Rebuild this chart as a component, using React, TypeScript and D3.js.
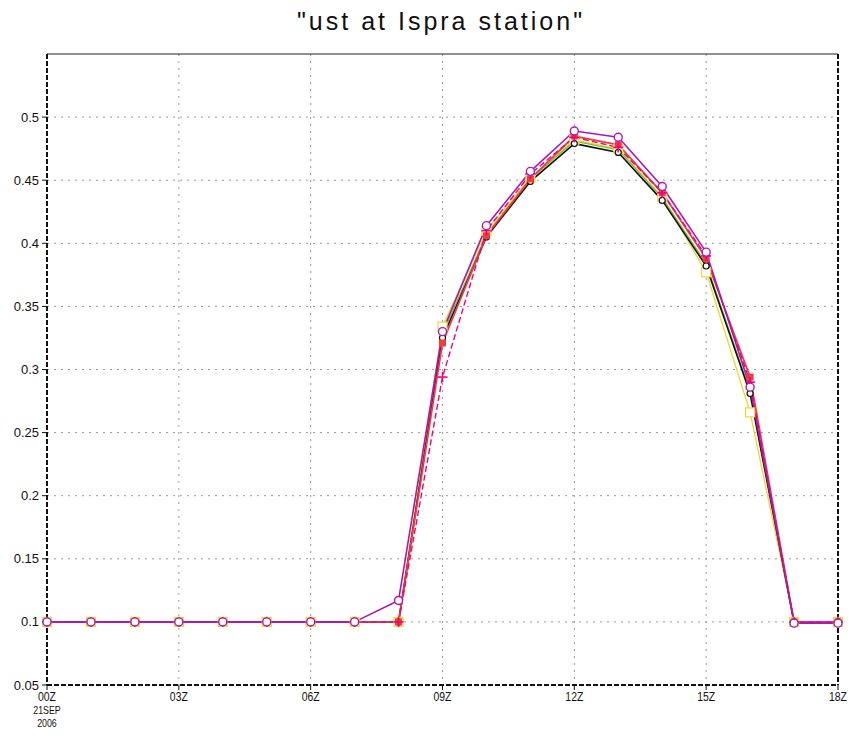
import React from "react";
import * as d3 from "d3";

// Hourly friction velocity (u*) at Ispra, 21 SEP 2006, 00Z..18Z
const hours = [0, 1, 2, 3, 4, 5, 6, 7, 8, 9, 10, 11, 12, 13, 14, 15, 16, 17, 18];

const ustYellow = [0.1, 0.1, 0.1, 0.1, 0.1, 0.1, 0.1, 0.1, 0.1, 0.334, 0.41, 0.452, 0.482, 0.475, 0.437, 0.377, 0.266, 0.1, 0.1];
const ustGreen = [0.1, 0.1, 0.1, 0.1, 0.1, 0.1, 0.1, 0.1, 0.1, 0.328, 0.407, 0.451, 0.481, 0.474, 0.436, 0.384, 0.283, 0.1, 0.1];
const ustBlack = [0.1, 0.1, 0.1, 0.1, 0.1, 0.1, 0.1, 0.1, 0.1, 0.325, 0.405, 0.449, 0.479, 0.472, 0.434, 0.382, 0.281, 0.1, 0.1];
const ustRed = [0.1, 0.1, 0.1, 0.1, 0.1, 0.1, 0.1, 0.1, 0.1, 0.321, 0.406, 0.451, 0.485, 0.478, 0.44, 0.388, 0.294, 0.1, 0.1];
const ustMagenta = [0.1, 0.1, 0.1, 0.1, 0.1, 0.1, 0.1, 0.1, 0.1, 0.294, 0.41, 0.455, 0.484, 0.476, 0.44, 0.39, 0.29, 0.1, 0.1];
const ustPurple = [0.1, 0.1, 0.1, 0.1, 0.1, 0.1, 0.1, 0.1, 0.117, 0.33, 0.414, 0.457, 0.489, 0.484, 0.445, 0.393, 0.286, 0.099, 0.099];

const yTicks = [0.05, 0.1, 0.15, 0.2, 0.25, 0.3, 0.35, 0.4, 0.45, 0.5];
const yTickLabels = ["0.05", "0.1", "0.15", "0.2", "0.25", "0.3", "0.35", "0.4", "0.45", "0.5"];
const xTicks = [0, 3, 6, 9, 12, 15, 18];
const xTickLabels = ["00Z", "03Z", "06Z", "09Z", "12Z", "15Z", "18Z"];
const dateLabels = ["21SEP", "2006"];
const title = '"ust at Ispra station"';

type Marker = "square" | "filledSquare" | "circle" | "smallCircle" | "plus" | "none";
interface Series {
  values: number[];
  color: string;
  width: number;
  dash?: string;
  marker: Marker;
}

const series: Series[] = [
  { values: ustYellow, color: "#e6dc32", width: 1.4, marker: "square" },
  { values: ustGreen, color: "#6fbf3a", width: 1.2, marker: "none" },
  { values: ustBlack, color: "#111111", width: 1.6, marker: "smallCircle" },
  { values: ustRed, color: "#f03c3c", width: 1.8, marker: "filledSquare" },
  { values: ustMagenta, color: "#f00082", width: 1.4, dash: "6,3", marker: "plus" },
  { values: ustPurple, color: "#a818b8", width: 1.6, marker: "circle" },
];

const W = 857;
const H = 737;
const left = 47;
const right = 838;
const top = 54;
const bottom = 685;

export default function App() {
  const x = d3.scaleLinear().domain([0, 18]).range([left, right]);
  const y = d3.scaleLinear().domain([0.05, 0.55]).range([bottom, top]);

  const line = d3
    .line<number>()
    .x((_, i) => x(hours[i]))
    .y((v) => y(v));

  const font = "'Liberation Sans', Arial, sans-serif";
  const squeeze = (cx: number) => `translate(${cx},0) scale(0.8,1) translate(${-cx},0)`;

  const drawMarker = (s: Series, v: number, i: number) => {
    const cx = x(hours[i]);
    const cy = y(v);
    switch (s.marker) {
      case "circle":
        return <circle key={i} cx={cx} cy={cy} r={4} fill="#fff" stroke={s.color} strokeWidth={1.4} />;
      case "smallCircle":
        return <circle key={i} cx={cx} cy={cy} r={3} fill="#fff" stroke={s.color} strokeWidth={1.2} />;
      case "square":
        return <rect key={i} x={cx - 4.5} y={cy - 4.5} width={9} height={9} fill="#fff" stroke={s.color} strokeWidth={1.2} />;
      case "filledSquare":
        return <rect key={i} x={cx - 3.5} y={cy - 3.5} width={7} height={7} fill={s.color} />;
      case "plus":
        return (
          <g key={i} stroke={s.color} strokeWidth={1.6}>
            <line x1={cx - 5} x2={cx + 5} y1={cy} y2={cy} />
            <line x1={cx} x2={cx} y1={cy - 5} y2={cy + 5} />
          </g>
        );
      default:
        return null;
    }
  };

  return (
    <svg width={W} height={H} style={{ display: "block", position: "absolute", left: 0, top: 0, background: "#fff" }}>
      <rect x={0} y={0} width={W} height={H} fill="#fff" />
      <text x={441} y={30} textAnchor="middle" fontFamily="'Liberation Sans', Arial, sans-serif" fontSize={25} letterSpacing={3} fill="#111">
        {title}
      </text>

      {/* grid */}
      <g stroke="#9a9a9a" strokeWidth={1} strokeDasharray="2,5">
        {yTicks.slice(1).map((t) => (
          <line key={"gy" + t} x1={left} x2={right} y1={y(t)} y2={y(t)} />
        ))}
        {xTicks.slice(1, -1).map((t) => (
          <line key={"gx" + t} x1={x(t)} x2={x(t)} y1={top} y2={bottom} />
        ))}
      </g>

      {/* frame */}
      <line x1={left} x2={right} y1={top} y2={top} stroke="#222" strokeWidth={1} />
      <g stroke="#111" strokeWidth={2} strokeDasharray="5,2">
        <line x1={left} x2={left} y1={top} y2={bottom} />
        <line x1={right} x2={right} y1={top} y2={bottom} />
        <line x1={left} x2={right} y1={bottom} y2={bottom} />
      </g>

      {/* y ticks */}
      <g fontFamily={font} fontSize={13} fill="#111">
        {yTicks.map((t, i) => (
          <g key={"yt" + t}>
            <line x1={left - 5} x2={left} y1={y(t)} y2={y(t)} stroke="#111" strokeWidth={1} />
            <text x={left - 8} y={y(t) + 4.5} textAnchor="end">
              {yTickLabels[i]}
            </text>
          </g>
        ))}
      </g>

      {/* x ticks */}
      <g fontFamily={font} fill="#111">
        {xTicks.map((t, i) => (
          <g key={"xt" + t}>
            <line x1={x(t)} x2={x(t)} y1={bottom} y2={bottom + 5} stroke="#111" strokeWidth={1} />
            <text x={x(t)} y={bottom + 16} fontSize={13} textAnchor="middle" transform={squeeze(x(t))}>
              {xTickLabels[i]}
            </text>
          </g>
        ))}
        {dateLabels.map((d, i) => (
          <text key={d} x={x(0)} y={bottom + 29 + i * 13} fontSize={11} textAnchor="middle" transform={squeeze(x(0))}>
            {d}
          </text>
        ))}
      </g>

      {/* series */}
      <g fill="none" strokeLinejoin="round">
        {series.map((s, k) => (
          <path key={"s" + k} d={line(s.values) ?? ""} stroke={s.color} strokeWidth={s.width} strokeDasharray={s.dash} />
        ))}
      </g>
      <g>
        {series.map((s, k) => (
          <g key={"m" + k}>{s.values.map((v, i) => drawMarker(s, v, i))}</g>
        ))}
      </g>
    </svg>
  );
}
